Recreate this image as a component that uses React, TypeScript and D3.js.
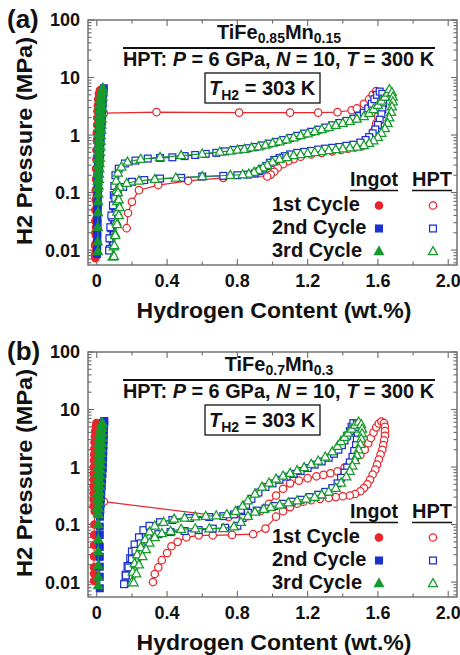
import React from "react";
import * as d3 from "d3";

type Pt = [number, number];

const X_DOMAIN: [number, number] = [-0.05, 2.05];
const Y_DOMAIN: [number, number] = [0.0055, 100];
const xTickValues = [0, 0.4, 0.8, 1.2, 1.6, 2.0];
const xTickLabels = ["0", "0.4", "0.8", "1.2", "1.6", "2.0"];
const yTickValues = [0.01, 0.1, 1, 10, 100];
const yTickLabels = ["0.01", "0.1", "1", "10", "100"];
const cycleNames = ["1st Cycle", "2nd Cycle", "3rd Cycle"];
const cycleColors = ["#e8262b", "#1c2fd0", "#169a2c"];
const panelLabels = ["(a)", "(b)"];
const alloyFe = ["0.85", "0.7"];
const alloyMn = ["0.15", "0.3"];

// ---------- Panel (a): TiFe0.85Mn0.15 ----------
const ingotA1: Pt[] = [[-0.008,0.0072],[-0.006,0.0095],[-0.006,0.013],[-0.004,0.018],[-0.004,0.025],[-0.002,0.035],[-0.002,0.048],[0,0.065],[0,0.09],[0.002,0.12],[0.003,0.16],[0.004,0.21],[0.005,0.27],[0.006,0.35],[0.007,0.45],[0.008,0.58],[0.009,0.74],[0.01,0.95],[0.011,1.2],[0.012,1.55],[0.013,2.0],[0.014,2.5],[0.015,3.2],[0.016,4.0],[0.017,5.0],[0.018,6.0],[0.012,5.2],[0.008,4.2],[0.006,3.3],[0.004,2.6],[0.003,2.0],[0.002,1.5],[0.0,1.1],[0.0,0.8],[-0.002,0.55],[-0.002,0.38],[-0.004,0.26],[-0.004,0.17],[-0.006,0.11],[-0.006,0.075],[-0.008,0.05],[-0.008,0.032],[-0.008,0.02],[-0.01,0.012],[-0.01,0.008]];
const ingotA2: Pt[] = [[0.002,0.009],[0.002,0.012],[0.003,0.016],[0.003,0.021],[0.004,0.028],[0.004,0.037],[0.005,0.048],[0.005,0.062],[0.006,0.08],[0.007,0.1],[0.008,0.13],[0.01,0.17],[0.012,0.22],[0.014,0.28],[0.016,0.36],[0.018,0.46],[0.02,0.6],[0.022,0.78],[0.024,1.0],[0.026,1.3],[0.028,1.7],[0.03,2.2],[0.032,2.8],[0.034,3.6],[0.036,4.5],[0.038,5.5],[0.04,6.5],[0.035,5.8],[0.03,4.8],[0.026,3.9],[0.022,3.1],[0.019,2.4],[0.016,1.85],[0.014,1.4],[0.012,1.05],[0.01,0.78],[0.009,0.57],[0.008,0.41],[0.007,0.29],[0.006,0.2],[0.005,0.14],[0.004,0.095],[0.004,0.065],[0.003,0.045],[0.003,0.03],[0.002,0.02],[0.002,0.013],[0.001,0.0085]];
const ingotA3: Pt[] = [[0.006,0.0095],[0.006,0.014],[0.006,0.025],[0.007,0.045],[0.008,0.07],[0.009,0.095],[0.01,0.13],[0.012,0.17],[0.013,0.21],[0.015,0.26],[0.016,0.32],[0.018,0.4],[0.019,0.5],[0.02,0.62],[0.022,0.78],[0.023,0.98],[0.025,1.22],[0.026,1.5],[0.028,1.9],[0.029,2.4],[0.03,3.0],[0.031,3.7],[0.032,4.6],[0.033,5.6],[0.034,6.6],[0.028,6.0],[0.024,5.0],[0.02,4.1],[0.017,3.3],[0.015,2.7],[0.013,2.15],[0.011,1.7],[0.01,1.35],[0.009,1.05],[0.008,0.82],[0.007,0.64],[0.006,0.5],[0.006,0.38],[0.005,0.29],[0.005,0.22],[0.005,0.16],[0.005,0.12]];

const hptA1: Pt[] = [[0.04,2.4],[0.34,2.5],[0.81,2.45],[1.10,2.45],[1.26,2.45],[1.37,2.5],[1.45,2.7],[1.48,2.9],[1.52,3.5],[1.55,4.2],[1.57,5.0],[1.59,5.8],[1.60,5.0],[1.60,4.1],[1.61,3.3],[1.60,2.6],[1.60,2.1],[1.59,1.6],[1.58,1.22],[1.57,1.0],[1.55,0.82],[1.53,0.7],[1.51,0.64],[1.47,0.61],[1.43,0.58],[1.39,0.55],[1.34,0.52],[1.28,0.49],[1.22,0.46],[1.16,0.42],[1.12,0.38],[1.09,0.35],[1.06,0.31],[1.03,0.27],[1.01,0.23],[0.99,0.205],[0.97,0.19],[0.72,0.18],[0.52,0.16],[0.35,0.135],[0.24,0.11],[0.2,0.069],[0.178,0.044],[0.17,0.024]];
const hptA2: Pt[] = [[0.075,0.0105],[0.078,0.016],[0.082,0.024],[0.088,0.037],[0.093,0.058],[0.097,0.09],[0.1,0.13],[0.106,0.2],[0.125,0.26],[0.16,0.32],[0.22,0.36],[0.29,0.39],[0.36,0.40],[0.43,0.41],[0.50,0.43],[0.56,0.45],[0.62,0.47],[0.68,0.49],[0.73,0.52],[0.78,0.55],[0.82,0.57],[0.86,0.59],[0.9,0.62],[0.94,0.66],[0.98,0.71],[1.02,0.76],[1.06,0.82],[1.10,0.89],[1.14,0.97],[1.18,1.06],[1.22,1.14],[1.26,1.24],[1.30,1.35],[1.34,1.48],[1.38,1.62],[1.42,1.76],[1.46,1.92],[1.49,2.15],[1.52,2.45],[1.545,2.9],[1.565,3.5],[1.58,4.2],[1.595,5.0],[1.61,5.7],[1.625,5.2],[1.63,4.3],[1.63,3.5],[1.625,2.8],[1.62,2.3],[1.61,1.85],[1.6,1.5],[1.585,1.25],[1.57,1.07],[1.55,0.92],[1.53,0.82],[1.5,0.74],[1.46,0.68],[1.42,0.65],[1.38,0.62],[1.34,0.6],[1.30,0.58],[1.26,0.56],[1.22,0.53],[1.18,0.51],[1.14,0.49],[1.1,0.46],[1.07,0.43],[1.04,0.40],[1.01,0.37],[0.985,0.33],[0.965,0.29],[0.945,0.26],[0.925,0.235],[0.9,0.215],[0.86,0.205],[0.8,0.2],[0.72,0.195],[0.6,0.19],[0.48,0.18],[0.36,0.175],[0.27,0.165],[0.2,0.154],[0.15,0.125],[0.12,0.1],[0.105,0.08],[0.092,0.06],[0.083,0.04],[0.077,0.025],[0.072,0.016],[0.07,0.0098]];
const hptA3: Pt[] = [[0.09,0.0076],[0.096,0.0114],[0.104,0.019],[0.112,0.031],[0.116,0.046],[0.115,0.07],[0.112,0.11],[0.11,0.16],[0.12,0.22],[0.14,0.28],[0.175,0.34],[0.25,0.38],[0.36,0.41],[0.48,0.44],[0.6,0.47],[0.7,0.51],[0.76,0.53],[0.8,0.55],[0.84,0.57],[0.88,0.6],[0.92,0.63],[0.96,0.67],[1.0,0.72],[1.04,0.77],[1.08,0.83],[1.12,0.9],[1.16,0.98],[1.2,1.06],[1.24,1.15],[1.28,1.25],[1.32,1.36],[1.36,1.48],[1.40,1.6],[1.44,1.74],[1.48,1.9],[1.52,2.1],[1.55,2.4],[1.575,2.8],[1.6,3.3],[1.62,3.9],[1.64,4.6],[1.655,5.4],[1.665,6.2],[1.68,5.5],[1.685,4.6],[1.685,3.8],[1.68,3.1],[1.675,2.5],[1.665,2.0],[1.655,1.6],[1.64,1.3],[1.62,1.08],[1.6,0.92],[1.575,0.8],[1.55,0.72],[1.52,0.66],[1.48,0.62],[1.44,0.6],[1.4,0.58],[1.36,0.56],[1.32,0.54],[1.28,0.52],[1.24,0.5],[1.2,0.48],[1.16,0.46],[1.12,0.44],[1.08,0.41],[1.04,0.38],[1.0,0.34],[0.97,0.3],[0.945,0.27],[0.92,0.245],[0.895,0.225],[0.865,0.21],[0.83,0.205],[0.76,0.2],[0.6,0.19],[0.45,0.18],[0.33,0.17],[0.24,0.16],[0.17,0.145],[0.13,0.125],[0.12,0.1],[0.125,0.075],[0.13,0.055],[0.125,0.04],[0.115,0.028],[0.105,0.018],[0.1,0.012],[0.098,0.0078]];

// ---------- Panel (b): TiFe0.7Mn0.3 ----------
const ingotB1: Pt[] = [[-0.015,0.0105],[-0.015,0.014],[-0.016,0.018],[-0.016,0.028],[-0.015,0.044],[-0.015,0.066],[-0.014,0.1],[-0.012,0.17],[-0.011,0.21],[-0.01,0.26],[-0.009,0.32],[-0.008,0.4],[-0.007,0.5],[-0.006,0.62],[-0.005,0.78],[-0.004,0.98],[-0.003,1.22],[-0.002,1.5],[-0.001,1.9],[0,2.4],[0.001,3.0],[0.002,3.7],[0.003,4.6],[0.004,5.6],[-0.002,5.8],[-0.006,5.0],[-0.009,4.2],[-0.011,3.4],[-0.013,2.7],[-0.014,2.1],[-0.015,1.65],[-0.016,1.3],[-0.017,1.0],[-0.017,0.78],[-0.018,0.6],[-0.018,0.46],[-0.018,0.35],[-0.018,0.27],[-0.018,0.21]];
const ingotB2: Pt[] = [[0.017,0.0078],[0.017,0.0124],[0.017,0.0185],[0.017,0.0275],[0.017,0.041],[0.017,0.066],[0.017,0.092],[0.018,0.137],[0.02,0.18],[0.022,0.23],[0.024,0.29],[0.026,0.37],[0.028,0.47],[0.03,0.6],[0.032,0.76],[0.034,0.96],[0.035,1.2],[0.036,1.5],[0.037,1.9],[0.038,2.4],[0.039,3.0],[0.04,3.7],[0.041,4.6],[0.042,5.6],[0.043,6.3],[0.036,5.9],[0.032,5.0],[0.029,4.1],[0.026,3.3],[0.024,2.6],[0.022,2.05],[0.02,1.6],[0.019,1.25],[0.018,0.98],[0.017,0.76],[0.016,0.59],[0.016,0.46],[0.015,0.35],[0.015,0.27],[0.015,0.21]];
const ingotB3: Pt[] = [[0.008,0.0087],[0.008,0.0124],[0.008,0.0195],[0.008,0.034],[0.008,0.055],[0.008,0.1],[0.01,0.15],[0.012,0.19],[0.013,0.24],[0.015,0.3],[0.016,0.37],[0.018,0.46],[0.019,0.57],[0.02,0.71],[0.022,0.88],[0.023,1.1],[0.025,1.36],[0.026,1.7],[0.027,2.1],[0.028,2.6],[0.029,3.2],[0.03,3.9],[0.031,4.8],[0.032,5.8],[0.026,5.6],[0.021,4.7],[0.017,3.9],[0.014,3.2],[0.012,2.6],[0.01,2.1],[0.009,1.65],[0.008,1.3],[0.007,1.0],[0.006,0.78],[0.006,0.6],[0.005,0.46],[0.005,0.35],[0.005,0.27],[0.005,0.2],[0.006,0.16]];

const hptB1: Pt[] = [[0.04,0.25],[0.75,0.135],[0.86,0.14],[0.93,0.17],[0.98,0.23],[1.02,0.32],[1.06,0.42],[1.1,0.52],[1.15,0.58],[1.2,0.64],[1.25,0.69],[1.29,0.73],[1.33,0.78],[1.37,0.84],[1.41,0.98],[1.44,1.16],[1.47,1.38],[1.5,1.62],[1.525,2.0],[1.545,2.6],[1.56,3.2],[1.575,4.0],[1.59,4.9],[1.605,5.7],[1.62,6.2],[1.635,5.8],[1.64,5.0],[1.64,4.2],[1.64,3.5],[1.635,2.9],[1.63,2.4],[1.625,2.0],[1.615,1.65],[1.605,1.35],[1.595,1.1],[1.585,0.9],[1.57,0.74],[1.555,0.6],[1.54,0.5],[1.52,0.43],[1.5,0.38],[1.47,0.34],[1.44,0.32],[1.4,0.31],[1.36,0.3],[1.32,0.29],[1.27,0.28],[1.22,0.265],[1.175,0.25],[1.14,0.23],[1.1,0.2],[1.06,0.17],[1.02,0.137],[0.96,0.085],[0.89,0.068],[0.77,0.066],[0.66,0.065],[0.58,0.065],[0.51,0.06],[0.46,0.05],[0.425,0.042],[0.4,0.032],[0.37,0.024],[0.35,0.018],[0.33,0.0138],[0.32,0.01]];
const hptB2: Pt[] = [[0.16,0.0095],[0.165,0.0135],[0.175,0.019],[0.19,0.026],[0.2,0.034],[0.215,0.045],[0.24,0.06],[0.265,0.08],[0.3,0.095],[0.36,0.11],[0.43,0.12],[0.53,0.13],[0.64,0.135],[0.72,0.14],[0.78,0.15],[0.82,0.18],[0.85,0.22],[0.88,0.28],[0.92,0.36],[0.96,0.45],[1.0,0.52],[1.04,0.6],[1.08,0.68],[1.12,0.76],[1.16,0.85],[1.2,0.96],[1.24,1.1],[1.28,1.25],[1.32,1.45],[1.35,1.7],[1.375,2.0],[1.395,2.4],[1.41,2.9],[1.425,3.5],[1.44,4.2],[1.45,5.0],[1.46,5.8],[1.48,5.6],[1.485,4.7],[1.485,3.8],[1.48,3.0],[1.475,2.4],[1.465,1.9],[1.455,1.5],[1.44,1.2],[1.425,0.98],[1.41,0.8],[1.39,0.65],[1.37,0.52],[1.34,0.43],[1.3,0.37],[1.26,0.33],[1.21,0.3],[1.16,0.27],[1.11,0.25],[1.06,0.23],[1.01,0.21],[0.96,0.19],[0.91,0.175],[0.86,0.16],[0.83,0.13],[0.8,0.095],[0.73,0.088],[0.66,0.085],[0.58,0.08],[0.5,0.077],[0.42,0.074],[0.35,0.068],[0.29,0.06],[0.25,0.047],[0.22,0.035],[0.2,0.025],[0.18,0.018],[0.165,0.013],[0.155,0.0092]];
const hptB3: Pt[] = [[0.2,0.01],[0.205,0.015],[0.215,0.021],[0.23,0.03],[0.25,0.04],[0.275,0.055],[0.3,0.075],[0.33,0.095],[0.38,0.11],[0.44,0.125],[0.5,0.13],[0.56,0.137],[0.62,0.14],[0.68,0.143],[0.74,0.15],[0.79,0.17],[0.83,0.21],[0.86,0.26],[0.9,0.34],[0.94,0.45],[0.98,0.53],[1.02,0.62],[1.06,0.7],[1.1,0.78],[1.14,0.87],[1.18,0.98],[1.22,1.12],[1.26,1.28],[1.3,1.5],[1.34,1.85],[1.37,2.3],[1.39,2.8],[1.41,3.3],[1.43,3.9],[1.45,4.6],[1.47,5.4],[1.49,6.1],[1.505,5.5],[1.51,4.6],[1.51,3.8],[1.505,3.1],[1.5,2.5],[1.49,2.0],[1.48,1.6],[1.47,1.3],[1.455,1.05],[1.44,0.85],[1.42,0.68],[1.39,0.53],[1.36,0.43],[1.32,0.37],[1.28,0.33],[1.24,0.3],[1.19,0.28],[1.14,0.26],[1.09,0.24],[1.04,0.22],[0.99,0.2],[0.95,0.185],[0.9,0.165],[0.86,0.14],[0.82,0.11],[0.78,0.092],[0.72,0.086],[0.64,0.085],[0.56,0.085],[0.48,0.083],[0.42,0.077],[0.37,0.07],[0.33,0.06],[0.3,0.048],[0.28,0.037],[0.26,0.028],[0.24,0.02],[0.225,0.014],[0.21,0.0098]];

const panelIngot: Pt[][][] = [[ingotA1, ingotA2, ingotA3], [ingotB1, ingotB2, ingotB3]];
const panelHpt: Pt[][][] = [[hptA1, hptA2, hptA3], [hptB1, hptB2, hptB3]];

const FONT = "'Liberation Sans', Arial, Helvetica, sans-serif";
const AXIS_COLOR = "#6a6a6a";

function Marker({ kind, cx, cy, color, filled }: { kind: number; cx: number; cy: number; color: string; filled: boolean }) {
  const fill = filled ? color : "#ffffff";
  const sw = 1.25;
  if (kind === 0) return <circle cx={cx} cy={cy} r={3.7} fill={fill} stroke={color} strokeWidth={sw} />;
  if (kind === 1) return <rect x={cx - 3.4} y={cy - 3.4} width={6.8} height={6.8} fill={fill} stroke={color} strokeWidth={sw} />;
  const pts = `${cx},${cy - 4.9} ${cx - 4.5},${cy + 3.2} ${cx + 4.5},${cy + 3.2}`;
  return <polygon points={pts} fill={fill} stroke={color} strokeWidth={sw} strokeLinejoin="miter" />;
}

function Panel({ idx, oy }: { idx: number; oy: number }) {
  const left = 88, right = 457, top = 20 + oy, bottom = 265 + oy;
  const x = d3.scaleLinear().domain(X_DOMAIN).range([left, right]);
  const y = d3.scaleLog().domain(Y_DOMAIN).range([bottom, top]);
  const line = d3.line<Pt>().x((d) => x(d[0])).y((d) => y(d[1]));
  const minorX = d3.range(0, 2.01, 0.2);
  const logTicks = y.ticks().filter((t) => t >= Y_DOMAIN[0] && t <= Y_DOMAIN[1]);
  const isDecade = (t: number) => Math.abs(Math.log10(t) - Math.round(Math.log10(t))) < 1e-6;

  const series: JSX.Element[] = [];
  for (let i = 0; i < 3; i++) {
    const ing = panelIngot[idx][i];
    const hpt = panelHpt[idx][i];
    const c = cycleColors[i];
    series.push(<path key={`il${i}`} d={line(ing) || ""} fill="none" stroke={c} strokeWidth={1.1} />);
    ing.forEach((d, k) => series.push(<Marker key={`im${i}-${k}`} kind={i} cx={x(d[0])} cy={y(d[1])} color={c} filled={true} />));
    series.push(<path key={`hl${i}`} d={line(hpt) || ""} fill="none" stroke={c} strokeWidth={1.2} />);
    hpt.forEach((d, k) => series.push(<Marker key={`hm${i}-${k}`} kind={i} cx={x(d[0])} cy={y(d[1])} color={c} filled={false} />));
  }

  return (
    <g fontFamily={FONT} fontWeight="bold">
      {minorX.map((t, k) => {
        const major = Math.abs(t / 0.4 - Math.round(t / 0.4)) < 1e-6;
        const len = major ? 6 : 3.5;
        return (
          <g key={`xt${k}`} stroke={AXIS_COLOR} strokeWidth={1.1}>
            <line x1={x(t)} x2={x(t)} y1={bottom} y2={bottom - len} />
            <line x1={x(t)} x2={x(t)} y1={top} y2={top + len} />
          </g>
        );
      })}
      {logTicks.map((t, k) => {
        const len = isDecade(t) ? 6 : 3.5;
        return (
          <g key={`yt${k}`} stroke={AXIS_COLOR} strokeWidth={1.1}>
            <line x1={left} x2={left + len} y1={y(t)} y2={y(t)} />
            <line x1={right} x2={right - len} y1={y(t)} y2={y(t)} />
          </g>
        );
      })}
      {series}
      <rect x={left} y={top} width={right - left} height={bottom - top} fill="none" stroke={AXIS_COLOR} strokeWidth={1.4} />
      {xTickValues.map((t, k) => (
        <text key={`xl${k}`} x={x(t)} y={287 + oy} textAnchor="middle" fontSize={18} fill="#111">{xTickLabels[k]}</text>
      ))}
      {yTickValues.map((t, k) => (
        <text key={`yl${k}`} x={80} y={y(t)} dy="0.36em" textAnchor="end" fontSize={18} fill="#111">{yTickLabels[k]}</text>
      ))}
      <text x={274} y={318 + oy} textAnchor="middle" fontSize={22} fill="#111" textLength={275} lengthAdjust="spacingAndGlyphs">Hydrogen Content (wt.%)</text>
      <text transform={`translate(32,${141 + oy}) rotate(-90)`} textAnchor="middle" fontSize={22} fill="#111" textLength={208} lengthAdjust="spacingAndGlyphs">H2 Pressure (MPa)</text>
      <text x={7} y={28 + oy} fontSize={26} fill="#111">{panelLabels[idx]}</text>
      <text x={279} y={39 + oy} textAnchor="middle" fontSize={20} fill="#111">
        TiFe<tspan fontSize={14} dy={4}>{alloyFe[idx]}</tspan><tspan dy={-4}>Mn</tspan><tspan fontSize={14} dy={4}>{alloyMn[idx]}</tspan>
      </text>
      <line x1={123} x2={435} y1={48 + oy} y2={48 + oy} stroke="#111" strokeWidth={2} />
      <text x={123} y={66 + oy} fontSize={19.5} fill="#111" textLength={311} lengthAdjust="spacingAndGlyphs">
        HPT: <tspan fontStyle="italic">P</tspan> = 6 GPa, <tspan fontStyle="italic">N</tspan> = 10, <tspan fontStyle="italic">T</tspan> = 300 K
      </text>
      <rect x={205} y={73 + oy} width={115} height={30} fill="#fff" stroke="#111" strokeWidth={1.3} />
      <text x={209} y={95 + oy} fontSize={20} fill="#111">
        <tspan fontStyle="italic">T</tspan><tspan fontSize={14} dy={5}>H2</tspan><tspan dy={-5}> = 303 K</tspan>
      </text>
      <text x={350} y={186 + oy} fontSize={20} fill="#111" textLength={48} lengthAdjust="spacingAndGlyphs">Ingot</text>
      <line x1={350} x2={398} y1={190.5 + oy} y2={190.5 + oy} stroke="#111" strokeWidth={1.6} />
      <text x={412} y={186 + oy} fontSize={20} fill="#111" textLength={40} lengthAdjust="spacingAndGlyphs">HPT</text>
      <line x1={412} x2={452} y1={190.5 + oy} y2={190.5 + oy} stroke="#111" strokeWidth={1.6} />
      {cycleNames.map((nm, i) => {
        const by = 211 + i * 23 + oy;
        return (
          <g key={`lg${i}`}>
            <text x={272} y={by} fontSize={20} fill="#111">{nm}</text>
            <Marker kind={i} cx={379} cy={by - 5.5} color={cycleColors[i]} filled={true} />
            <Marker kind={i} cx={433} cy={by - 5.5} color={cycleColors[i]} filled={false} />
          </g>
        );
      })}
    </g>
  );
}

export default function App() {
  return (
    <svg width={460} height={655} viewBox="0 0 460 655" style={{ position: "absolute", left: 0, top: 0, background: "#fff" }}>
      <rect x={0} y={0} width={460} height={655} fill="#fff" />
      <Panel idx={0} oy={0} />
      <Panel idx={1} oy={332} />
    </svg>
  );
}
